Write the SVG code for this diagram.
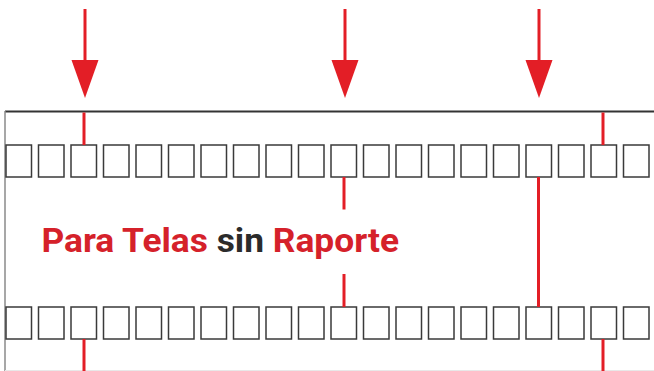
<svg xmlns="http://www.w3.org/2000/svg" width="654" height="371" viewBox="0 0 654 371">
<style>
.sq{fill:#fff;stroke:#3a3a3a;stroke-width:1.5}
.red{stroke:#e31e26;stroke-width:3;fill:none}
.head{fill:#e31e26}
.t{font-family:Roboto,"Liberation Sans",sans-serif;font-weight:bold;font-size:34px}
</style>
<defs>
<g id="row">
<rect class="sq" x="6" y="0" width="25.5" height="32"/>
<rect class="sq" x="38.5" y="0" width="25.5" height="32"/>
<rect class="sq" x="71" y="0" width="25.5" height="32"/>
<rect class="sq" x="103.5" y="0" width="25.5" height="32"/>
<rect class="sq" x="136" y="0" width="25.5" height="32"/>
<rect class="sq" x="168.5" y="0" width="25.5" height="32"/>
<rect class="sq" x="201" y="0" width="25.5" height="32"/>
<rect class="sq" x="233.5" y="0" width="25.5" height="32"/>
<rect class="sq" x="266" y="0" width="25.5" height="32"/>
<rect class="sq" x="298.5" y="0" width="25.5" height="32"/>
<rect class="sq" x="331" y="0" width="25.5" height="32"/>
<rect class="sq" x="363.5" y="0" width="25.5" height="32"/>
<rect class="sq" x="396" y="0" width="25.5" height="32"/>
<rect class="sq" x="428.5" y="0" width="25.5" height="32"/>
<rect class="sq" x="461" y="0" width="25.5" height="32"/>
<rect class="sq" x="493.5" y="0" width="25.5" height="32"/>
<rect class="sq" x="526" y="0" width="25.5" height="32"/>
<rect class="sq" x="558.5" y="0" width="25.5" height="32"/>
<rect class="sq" x="591" y="0" width="25.5" height="32"/>
<rect class="sq" x="623.5" y="0" width="25.5" height="32"/>
</g>
</defs>
<rect width="654" height="371" fill="#fff"/>
<g id="frame">
<line x1="5" y1="111.5" x2="654" y2="111.5" stroke="#333" stroke-width="2.2"/>
<line x1="5" y1="111" x2="5" y2="371" stroke="#8a8a8a" stroke-width="1.5"/>
<line x1="5" y1="370.5" x2="654" y2="370.5" stroke="#e8e8e8" stroke-width="1"/>
</g>
<g id="row-top"><use href="#row" y="145"/></g>
<g id="row-bottom"><use href="#row" y="307"/></g>
<g id="arrows">
<line class="red" x1="85" y1="9" x2="85" y2="62"/>
<polygon class="head" points="71.5,60 98.5,60 85,98"/>
<line class="red" x1="345" y1="9" x2="345" y2="62"/>
<polygon class="head" points="331.5,60 358.5,60 345,98"/>
<line class="red" x1="539" y1="9" x2="539" y2="62"/>
<polygon class="head" points="525.5,60 552.5,60 539,98"/>
</g>
<g id="connectors">
<line class="red" x1="84" y1="112.5" x2="84" y2="145"/>
<line class="red" x1="603" y1="112.5" x2="603" y2="145"/>
<line class="red" x1="344" y1="177" x2="344" y2="209.5"/>
<line class="red" x1="344" y1="274" x2="344" y2="307"/>
<line class="red" x1="538.5" y1="177" x2="538.5" y2="307"/>
<line class="red" x1="84" y1="339" x2="84" y2="371"/>
<line class="red" x1="603" y1="339" x2="603" y2="371"/>
</g>
<g id="title">
<text class="t" x="41.5" y="251.5" textLength="357.5" lengthAdjust="spacingAndGlyphs"><tspan fill="#d5212a">Para Telas </tspan><tspan fill="#2b2b2b">sin </tspan><tspan fill="#d5212a">Raporte</tspan></text>
</g>
</svg>
